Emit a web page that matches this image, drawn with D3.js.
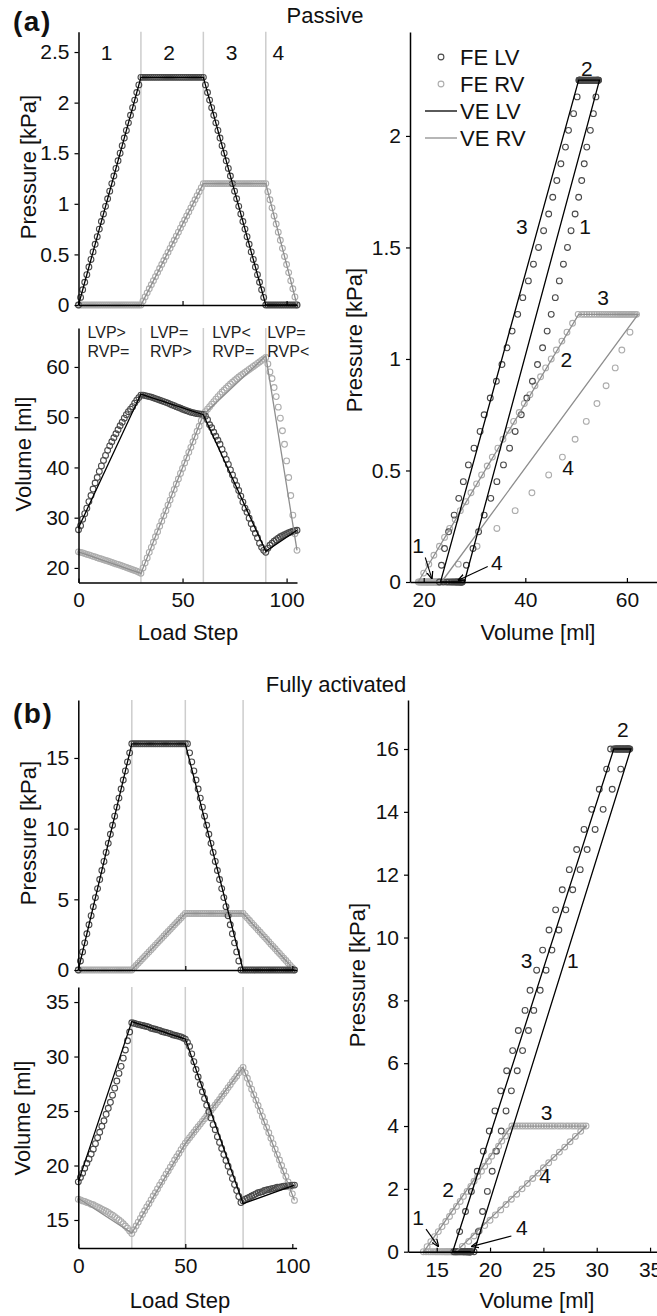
<!DOCTYPE html>
<html>
<head>
<meta charset="utf-8">
<title>Passive / Fully activated</title>
<script src="https://cdnjs.cloudflare.com/ajax/libs/d3/7.8.5/d3.min.js"></script>
<style>
  body { margin: 0; background: #fff; }
</style>
</head>
<body>
<script>
// ---------- data (array index = load step) ----------
// (a) passive, FE results
var pLvA = [0,0.075,0.15,0.225,0.3,0.375,0.45,0.525,0.6,0.675,0.75,0.825,0.9,0.975,1.05,1.125,1.2,1.275,1.35,1.425,1.5,1.575,1.65,1.725,1.8,1.875,1.95,2.025,2.1,2.175,2.25,
  2.25,2.25,2.25,2.25,2.25,2.25,2.25,2.25,2.25,2.25,2.25,2.25,2.25,2.25,2.25,2.25,2.25,2.25,2.25,2.25,2.25,2.25,2.25,2.25,2.25,2.25,2.25,2.25,2.25,2.25,
  2.175,2.1,2.025,1.95,1.875,1.8,1.725,1.65,1.575,1.5,1.425,1.35,1.275,1.2,1.125,1.05,0.975,0.9,0.825,0.75,0.675,0.6,0.525,0.45,0.375,0.3,0.225,0.15,0.075,0,
  0,0,0,0,0,0,0,0,0,0,0,0,0,0,0];
var pRvA = [0,0,0,0,0,0,0,0,0,0,0,0,0,0,0,0,0,0,0,0,0,0,0,0,0,0,0,0,0,0,0,
  0.04,0.08,0.12,0.16,0.2,0.24,0.28,0.32,0.36,0.4,0.44,0.48,0.52,0.56,0.6,0.64,0.68,0.72,0.76,0.8,0.84,0.88,0.92,0.96,1,1.04,1.08,1.12,1.16,1.2,
  1.2,1.2,1.2,1.2,1.2,1.2,1.2,1.2,1.2,1.2,1.2,1.2,1.2,1.2,1.2,1.2,1.2,1.2,1.2,1.2,1.2,1.2,1.2,1.2,1.2,1.2,1.2,1.2,1.2,1.2,
  1.12,1.04,0.96,0.88,0.8,0.72,0.64,0.56,0.48,0.4,0.32,0.24,0.16,0.08,0];
var vLvA = [27.6,28.4,29.7,30.8,31.9,33.2,34.4,35.7,36.9,38.0,39.2,40.3,41.4,42.4,43.4,44.3,45.1,45.9,46.7,47.5,48.3,49.0,49.8,50.5,51.1,51.6,52.1,52.8,53.4,53.9,54.4,
  54.4,54.3,54.2,54.1,54.0,53.85,53.7,53.55,53.4,53.25,53.1,52.95,52.8,52.6,52.45,52.3,52.1,51.95,51.8,51.6,51.45,51.3,51.15,51.0,50.9,50.8,50.7,50.65,50.6,50.55,
  50.2,49.5,48.5,47.9,47.0,46.2,45.4,44.6,43.6,42.6,41.6,40.6,39.5,38.5,37.4,36.4,35.4,34.3,33.1,31.9,31.1,29.9,28.8,27.8,26.9,26.0,24.9,24.1,23.5,23.1,
  23.9,24.5,24.9,25.3,25.6,25.9,26.2,26.4,26.6,26.8,27.0,27.15,27.3,27.4,27.5];
var vRvA = [23.2,23.1,23.0,22.85,22.7,22.6,22.45,22.3,22.2,22.05,21.9,21.8,21.65,21.5,21.4,21.25,21.1,20.95,20.8,20.7,20.55,20.4,20.25,20.1,19.95,19.8,19.65,19.5,19.35,19.15,18.95,
  20.0,21.0,22.0,23.1,24.1,25.1,26.2,27.2,28.3,29.3,30.4,31.4,32.5,33.5,34.6,35.6,36.7,37.7,38.8,39.8,40.9,41.9,43.0,44.0,45.1,46.1,47.2,48.2,49.3,50.4,
  51.1,51.6,52.1,52.6,53.1,53.6,54.1,54.55,55.0,55.4,55.8,56.2,56.6,56.95,57.3,57.65,58.0,58.3,58.6,58.9,59.2,59.5,59.8,60.1,60.4,60.7,61.0,61.3,61.6,61.9,
  60.6,59.0,57.7,55.9,54.1,52.0,49.8,47.3,44.6,41.3,38.0,34.4,30.5,26.8,23.5];
// (a) VE results at the phase ends
var veStepA = [0, 30, 60, 90, 105];
var vePLvA = [0, 2.25, 2.25, 0, 0];
var vePRvA = [0, 0, 1.2, 1.2, 0];
var veVLvA = [28.0, 54.6, 50.5, 23.3, 27.5];
var veVRvA = [23.2, 18.9, 50.5, 62.2, 23.5];
var phaseEndA = [30, 60, 90];

// (b) fully activated, FE results
var pLvB = [0,0.64,1.28,1.92,2.56,3.2,3.84,4.48,5.12,5.76,6.4,7.04,7.68,8.32,8.96,9.6,10.24,10.88,11.52,12.16,12.8,13.44,14.08,14.72,15.36,16,
  16,16,16,16,16,16,16,16,16,16,16,16,16,16,16,16,16,16,16,16,16,16,16,16,16,
  16,15.36,14.72,14.08,13.44,12.8,12.16,11.52,10.88,10.24,9.6,8.96,8.32,7.68,7.04,6.4,5.76,5.12,4.48,3.84,3.2,2.56,1.92,1.28,0.64,0,
  0,0,0,0,0,0,0,0,0,0,0,0,0,0,0,0,0,0,0,0,0,0,0,0,0];
var pRvB = [0,0,0,0,0,0,0,0,0,0,0,0,0,0,0,0,0,0,0,0,0,0,0,0,0,0,
  0.16,0.32,0.48,0.64,0.8,0.96,1.12,1.28,1.44,1.6,1.76,1.92,2.08,2.24,2.4,2.56,2.72,2.88,3.04,3.2,3.36,3.52,3.68,3.84,4,
  4,4,4,4,4,4,4,4,4,4,4,4,4,4,4,4,4,4,4,4,4,4,4,4,4,4,4,
  3.83,3.67,3.5,3.33,3.17,3,2.83,2.67,2.5,2.33,2.17,2,1.83,1.67,1.5,1.33,1.17,1,0.83,0.67,0.5,0.33,0.17,0];
var vLvB = [18.5,18.9,19.3,19.75,20.2,20.6,21.05,21.5,22.0,22.55,23.05,23.6,24.1,24.7,25.25,25.8,26.45,27.1,27.75,28.45,29.1,29.85,30.6,31.45,32.25,33.1,
  33.05,33.0,32.95,32.9,32.85,32.8,32.75,32.7,32.6,32.55,32.5,32.45,32.4,32.3,32.25,32.2,32.15,32.1,32.0,31.95,31.9,31.85,31.8,31.7,31.6,
  31.3,30.93,30.24,29.53,28.81,28.12,27.43,26.77,26.15,25.53,24.93,24.37,23.75,23.28,22.65,22.12,21.56,21.0,20.46,19.93,19.37,18.8,18.25,17.7,17.15,16.6,
  16.75,16.9,17.0,17.1,17.2,17.3,17.4,17.5,17.55,17.6,17.7,17.75,17.8,17.85,17.9,17.95,18.0,18.0,18.05,18.1,18.1,18.15,18.15,18.2,18.2];
var vRvB = [16.9,16.85,16.75,16.7,16.6,16.55,16.45,16.4,16.3,16.2,16.1,16.0,15.9,15.8,15.7,15.55,15.45,15.3,15.15,15.0,14.85,14.65,14.45,14.25,14.0,13.75,
  14.1,14.45,14.8,15.15,15.5,15.85,16.2,16.5,16.85,17.2,17.5,17.85,18.2,18.5,18.85,19.2,19.5,19.85,20.15,20.5,20.8,21.1,21.45,21.75,22.05,
  22.3,22.55,22.8,23.05,23.3,23.55,23.8,24.05,24.3,24.55,24.8,25.05,25.3,25.55,25.8,26.05,26.35,26.6,26.85,27.15,27.4,27.7,27.95,28.2,28.5,28.75,29.0,
  28.5,28.0,27.5,27.0,26.5,26.0,25.5,25.0,24.5,24.0,23.5,23.0,22.5,22.0,21.5,21.0,20.5,20.0,19.5,19.0,18.5,18.0,17.4,16.8];
var veStepB = [0, 25, 50, 77, 101];
var vePLvB = [0, 16, 16, 0, 0];
var vePRvB = [0, 0, 4, 4, 0];
var veVLvB = [18.5, 33.2, 31.6, 16.5, 18.2];
var veVRvB = [17.0, 13.8, 22.0, 29.0, 16.8];
var phaseEndB = [25, 50, 77];

// labels
var phaseNums = ["1", "2", "3", "4"];
var lvCond = ["LVP>", "LVP=", "LVP<", "LVP="];
var rvCond = ["RVP=", "RVP>", "RVP=", "RVP<"];
var legendNames = ["FE LV", "FE RV", "VE LV", "VE RV"];
// pressure-volume annotations [text, volume, pressure]
var notesA = [["2", 52.1, 2.27], ["3", 39.3, 1.56], ["1", 51.75, 1.56], ["3", 55.3, 1.24],
              ["2", 48.1, 0.964], ["4", 48.4, 0.48], ["1", 18.9, 0.13], ["4", 34.4, 0.054]];
var arrowsA = [[20.3, 0.11, 21.6, 0.016], [32.6, 0.07, 26.8, 0.008]];
var notesB = [["2", 32.46, 16.38], ["3", 23.43, 9.03], ["1", 27.77, 9.03], ["3", 25.31, 4.19],
              ["4", 25.15, 2.19], ["2", 16.06, 1.74], ["1", 13.25, 0.85], ["4", 22.97, 0.53]];
var arrowsB = [[14.0, 0.72, 15.15, 0.17], [22.0, 0.5, 18.3, 0.17]];

// ---------- drawing ----------
var FONT = '"Liberation Sans", Arial, sans-serif';
var colLV = "#4a4a4a", colRV = "#adadad", colVeLV = "#000", colVeRV = "#8e8e8e", colGrid = "#cdcdcd";

var svg = d3.select("body").append("svg")
  .attr("width", 657).attr("height", 1316)
  .style("font-family", FONT);

svg.append("defs").append("marker")
  .attr("id", "arr").attr("viewBox", "0 0 10 10").attr("refX", 9).attr("refY", 5)
  .attr("markerWidth", 7).attr("markerHeight", 7).attr("orient", "auto")
  .append("path").attr("d", "M0,1 L10,5 L0,9").attr("fill", "none").attr("stroke", "#000").attr("stroke-width", 1.6);

function styleAxis(g) {
  g.select(".domain").attr("stroke", "#000").attr("stroke-width", 1.5);
  g.selectAll(".tick line").attr("stroke", "#000").attr("stroke-width", 1.2);
  g.selectAll(".tick text").attr("font-size", 21).attr("fill", "#111").attr("font-family", FONT);
}

function axes(x, y, xTicks, yTicks, xLabels) {
  var gx = svg.append("g").attr("transform", "translate(0," + y.range()[0] + ")")
    .call(d3.axisBottom(x).tickValues(xTicks).tickSizeInner(-4).tickSizeOuter(0).tickPadding(10)
      .tickFormat(xLabels ? d3.format("d") : function () { return ""; }));
  styleAxis(gx);
  var gy = svg.append("g").attr("transform", "translate(" + x.range()[0] + ",0)")
    .call(d3.axisLeft(y).tickValues(yTicks).tickSizeInner(4).tickSizeOuter(0).tickPadding(5)
      .tickFormat(d3.format("~g")));
  styleAxis(gy);
}

function yLabel(txt, cx, cy) {
  svg.append("text").attr("transform", "translate(" + cx + "," + cy + ") rotate(-90)")
    .attr("text-anchor", "middle").attr("dy", "0.35em").attr("font-size", 22).attr("fill", "#111").text(txt);
}
function xLabel(txt, cx, base) {
  svg.append("text").attr("x", cx).attr("y", base).attr("text-anchor", "middle")
    .attr("font-size", 22).attr("fill", "#111").text(txt);
}

function circles(pts, x, y, col) {
  svg.append("g").selectAll("circle").data(pts).join("circle")
    .attr("cx", function (d) { return x(d[0]); })
    .attr("cy", function (d) { return y(d[1]); })
    .attr("r", 2.9).attr("fill", "none").attr("stroke", col).attr("stroke-width", 1.1);
}
function veLine(pts, x, y, col) {
  svg.append("path").datum(pts)
    .attr("d", d3.line().x(function (d) { return x(d[0]); }).y(function (d) { return y(d[1]); }))
    .attr("fill", "none").attr("stroke", col).attr("stroke-width", 1.3);
}
function indexed(arr) { return arr.map(function (v, i) { return [i, v]; }); }

// time-course panel (pressure or volume against load step)
function timePanel(o) {
  var x = d3.scaleLinear().domain(o.xDom).range(o.xRange);
  var y = d3.scaleLinear().domain(o.yDom).range(o.yRange);
  svg.append("g").selectAll("line").data(o.bounds).join("line")
    .attr("x1", function (d) { return x(d); }).attr("x2", function (d) { return x(d); })
    .attr("y1", o.yRange[0]).attr("y2", o.yRange[1])
    .attr("stroke", colGrid).attr("stroke-width", 1.5);
  circles(indexed(o.rv), x, y, colRV);
  circles(indexed(o.lv), x, y, colLV);
  veLine(d3.zip(o.veStep, o.veRv), x, y, colVeRV);
  veLine(d3.zip(o.veStep, o.veLv), x, y, colVeLV);
  axes(x, y, [0, 50, 100], o.yTicks, o.xLabels);
  return { x: x, y: y };
}

// pressure-volume panel
function pvPanel(o) {
  var x = d3.scaleLinear().domain(o.xDom).range(o.xRange);
  var y = d3.scaleLinear().domain(o.yDom).range(o.yRange);
  circles(d3.zip(o.vRv, o.pRv), x, y, colRV);
  circles(d3.zip(o.vLv, o.pLv), x, y, colLV);
  veLine(d3.zip(o.veVRv, o.vePRv), x, y, colVeRV);
  veLine(d3.zip(o.veVLv, o.vePLv), x, y, colVeLV);
  axes(x, y, o.xTicks, o.yTicks, true);
  svg.append("g").selectAll("text").data(o.notes).join("text")
    .attr("x", function (d) { return x(d[1]); }).attr("y", function (d) { return y(d[2]); })
    .attr("text-anchor", "middle").attr("font-size", 21).attr("fill", "#111")
    .text(function (d) { return d[0]; });
  svg.append("g").selectAll("line").data(o.arrows).join("line")
    .attr("x1", function (d) { return x(d[0]); }).attr("y1", function (d) { return y(d[1]); })
    .attr("x2", function (d) { return x(d[2]); }).attr("y2", function (d) { return y(d[3]); })
    .attr("stroke", "#000").attr("stroke-width", 1.1).attr("marker-end", "url(#arr)");
  return { x: x, y: y };
}

// ----- (a) Passive -----
var aP = timePanel({ xDom: [0, 105], xRange: [78.5, 297], yDom: [0, 2.7], yRange: [305, 31.8],
  lv: pLvA, rv: pRvA, veStep: veStepA, veLv: vePLvA, veRv: vePRvA, bounds: phaseEndA,
  yTicks: [0, 0.5, 1, 1.5, 2, 2.5], xLabels: false });
var edgesA = [0].concat(phaseEndA, [105]);
svg.append("g").selectAll("text").data(phaseNums).join("text")
  .attr("x", function (d, i) { return aP.x((edgesA[i] + edgesA[i + 1]) / 2) - 3; })
  .attr("y", 60).attr("text-anchor", "middle").attr("font-size", 21).attr("fill", "#111")
  .text(function (d) { return d; });

var aV = timePanel({ xDom: [0, 105], xRange: [78.5, 297], yDom: [17.1, 67.75], yRange: [582.5, 328],
  lv: vLvA, rv: vRvA, veStep: veStepA, veLv: veVLvA, veRv: veVRvA, bounds: phaseEndA,
  yTicks: [20, 30, 40, 50, 60], xLabels: true });
var condG = svg.append("g").attr("font-size", 16).attr("fill", "#222");
edgesA.slice(0, 4).forEach(function (s, i) {
  var xx = aV.x(s) + (i < 3 ? 9 : 1.5);
  condG.append("text").attr("x", xx).attr("y", 338).text(lvCond[i]);
  condG.append("text").attr("x", xx).attr("y", 357).text(rvCond[i]);
});

yLabel("Pressure [kPa]", 28, 167);
yLabel("Volume [ml]", 23, 454);
xLabel("Load Step", 188, 640);

pvPanel({ xDom: [17.3, 66], xRange: [410, 657.4], yDom: [0, 2.466], yRange: [582, 32],
  vLv: vLvA, pLv: pLvA, vRv: vRvA, pRv: pRvA,
  veVLv: veVLvA, vePLv: vePLvA, veVRv: veVRvA, vePRv: vePRvA,
  xTicks: [20, 40, 60], yTicks: [0, 0.5, 1, 1.5, 2], notes: notesA, arrows: arrowsA });
yLabel("Pressure [kPa]", 354, 340);
xLabel("Volume [ml]", 538, 640);

// legend
var lg = svg.append("g").attr("font-size", 22).attr("fill", "#111");
legendNames.forEach(function (name, i) {
  var yy = 57 + i * 27;
  if (i < 2) {
    lg.append("circle").attr("cx", 441).attr("cy", yy).attr("r", 2.9).attr("fill", "none")
      .attr("stroke", i === 0 ? colLV : colRV).attr("stroke-width", 1.1);
  } else {
    lg.append("line").attr("x1", 425).attr("x2", 457).attr("y1", yy).attr("y2", yy)
      .attr("stroke", i === 2 ? colVeLV : colVeRV).attr("stroke-width", 1.3);
  }
  lg.append("text").attr("x", 460).attr("y", yy + 7.5).text(name);
});

svg.append("text").attr("x", 13).attr("y", 31).attr("font-size", 28).attr("font-weight", "bold")
  .attr("letter-spacing", 1.5).attr("fill", "#111").text("(a)");
svg.append("text").attr("x", 325).attr("y", 23).attr("text-anchor", "middle")
  .attr("font-size", 22).attr("fill", "#111").text("Passive");

// ----- (b) Fully activated -----
timePanel({ xDom: [0, 102], xRange: [78.3, 296.6], yDom: [0, 19.1], yRange: [970, 700],
  lv: pLvB, rv: pRvB, veStep: veStepB, veLv: vePLvB, veRv: vePRvB, bounds: phaseEndB,
  yTicks: [0, 5, 10, 15], xLabels: false });
timePanel({ xDom: [0, 102], xRange: [78.3, 296.6], yDom: [12.43, 36.38], yRange: [1248, 987],
  lv: vLvB, rv: vRvB, veStep: veStepB, veLv: veVLvB, veRv: veVRvB, bounds: phaseEndB,
  yTicks: [15, 20, 25, 30, 35], xLabels: true });
yLabel("Pressure [kPa]", 28, 833);
yLabel("Volume [ml]", 22, 1118);
xLabel("Load Step", 180, 1308);

pvPanel({ xDom: [12.31, 35.65], xRange: [408, 657], yDom: [0, 17.56], yRange: [1251.7, 700],
  vLv: vLvB, pLv: pLvB, vRv: vRvB, pRv: pRvB,
  veVLv: veVLvB, vePLv: vePLvB, veVRv: veVRvB, vePRv: vePRvB,
  xTicks: [15, 20, 25, 30, 35], yTicks: [0, 2, 4, 6, 8, 10, 12, 14, 16], notes: notesB, arrows: arrowsB });
yLabel("Pressure [kPa]", 357, 975);
xLabel("Volume [ml]", 537, 1308);

svg.append("text").attr("x", 13).attr("y", 723).attr("font-size", 28).attr("font-weight", "bold")
  .attr("letter-spacing", 1.5).attr("fill", "#111").text("(b)");
svg.append("text").attr("x", 336).attr("y", 692).attr("text-anchor", "middle")
  .attr("font-size", 22).attr("fill", "#111").text("Fully activated");
</script>
</body>
</html>
